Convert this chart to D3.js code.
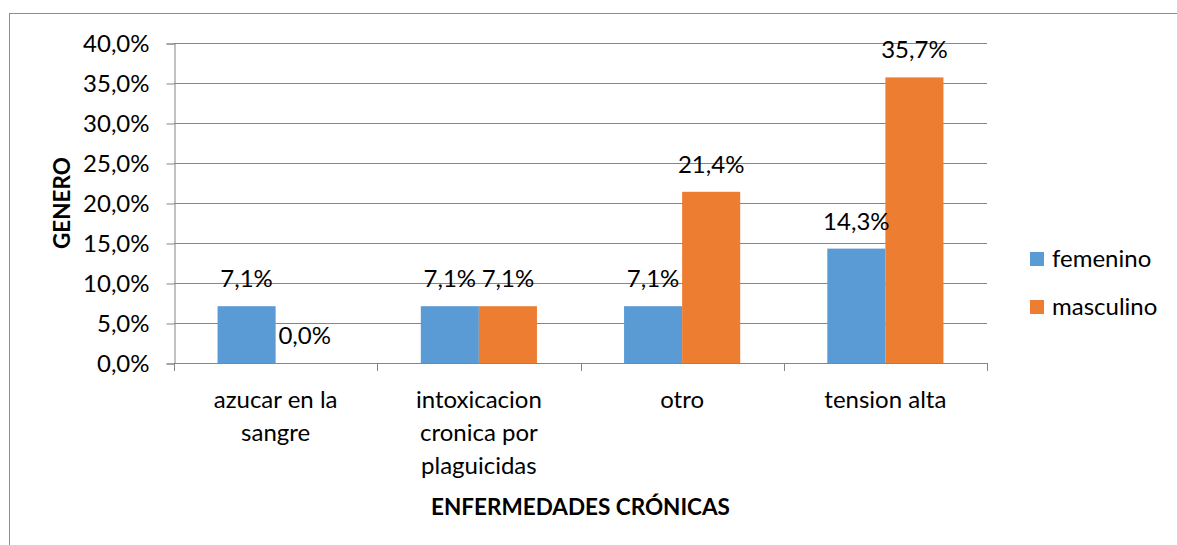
<!DOCTYPE html>
<html>
<head>
<meta charset="utf-8">
<script src="https://cdn.jsdelivr.net/npm/d3@7"></script>
<style>
  body { margin: 0; background: #fff; }
  svg { display: block; font-family: Lato, "Open Sans", sans-serif; }
</style>
</head>
<body>
<svg id="chart" width="1177" height="545"></svg>
<script>
// data
const categories = ["azucar en la sangre", "intoxicacion cronica por plaguicidas", "otro", "tension alta"];
const categoryLines = [["azucar en la", "sangre"], ["intoxicacion", "cronica por", "plaguicidas"], ["otro"], ["tension alta"]];
const series = ["femenino", "masculino"];
const femenino = [0.071, 0.071, 0.071, 0.143];
const masculino = [0.000, 0.071, 0.214, 0.357];
const yTicks = [0, 0.05, 0.10, 0.15, 0.20, 0.25, 0.30, 0.35, 0.40];
const colors = {femenino: "#5B9BD5", masculino: "#ED7D31"};

const seriesValues = {femenino: femenino, masculino: masculino};

const svg = d3.select("#chart");
const plotLeft = 174, plotRight = 987, plotTop = 43, plotBottom = 363;

const locale = d3.formatLocale({decimal: ",", thousands: ".", grouping: [3], currency: ["", "€"]});
const pct = locale.format(".1%");

// outer chart border (only top and left visible)
svg.append("rect")
    .attr("x", 9.5).attr("y", 13.5)
    .attr("width", 1300).attr("height", 700)
    .attr("fill", "none")
    .attr("stroke", "#8c8c8c");

let x0 = d3.scaleBand().domain(categories).range([plotLeft, plotRight]).paddingInner(0).paddingOuter(0);
let x1 = d3.scaleBand().domain(series).range([0, x0.bandwidth()]).paddingInner(0).paddingOuter(0.75);
let y = d3.scaleLinear().domain([0, 0.4]).range([plotBottom, plotTop]);

// gridlines
svg.append("g")
  .selectAll("line")
  .data(yTicks)
  .enter().append("line")
    .attr("x1", plotLeft).attr("x2", plotRight)
    .attr("y1", d => Math.round(y(d)) + 0.5).attr("y2", d => Math.round(y(d)) + 0.5)
    .attr("stroke", "#868686");

// y axis
let yAxis = d3.axisLeft(y).tickValues(yTicks).tickFormat(pct).tickSize(8).tickPadding(17);
let gy = svg.append("g").attr("transform", `translate(${plotLeft + 0.5},0.5)`).call(yAxis);
gy.select(".domain").attr("stroke", "#868686");
gy.selectAll(".tick line").attr("stroke", "#868686");
gy.selectAll(".tick text")
    .attr("font-size", 24)
    .attr("fill", "#000")
    .attr("dy", "0.34em")
    .attr("font-family", "Lato, sans-serif");

// x axis
let xTickPos = categories.map(c => x0(c)).concat([plotRight]);
svg.append("line")
    .attr("x1", plotLeft).attr("x2", plotRight)
    .attr("y1", plotBottom + 0.5).attr("y2", plotBottom + 0.5)
    .attr("stroke", "#868686");
svg.append("g")
  .selectAll("line")
  .data(xTickPos)
  .enter().append("line")
    .attr("x1", d => Math.round(d) + 0.5).attr("x2", d => Math.round(d) + 0.5)
    .attr("y1", plotBottom).attr("y2", plotBottom + 8)
    .attr("stroke", "#868686");

// bars
let groups = svg.append("g")
  .selectAll("g")
  .data(categories)
  .enter().append("g")
    .attr("transform", d => `translate(${x0(d)},0)`);

groups.selectAll("rect")
  .data((c, i) => series.map(s => ({s: s, v: seriesValues[s][i]})))
  .enter().append("rect")
    .attr("x", d => x1(d.s))
    .attr("y", d => y(d.v))
    .attr("width", x1.bandwidth())
    .attr("height", d => plotBottom - y(d.v))
    .attr("fill", d => colors[d.s]);

groups.selectAll("text")
  .data((c, i) => series.map(s => ({s: s, v: seriesValues[s][i]})))
  .enter().append("text")
    .attr("x", d => x1(d.s) + x1.bandwidth() / 2)
    .attr("y", d => y(d.v) - 19)
    .attr("text-anchor", "middle")
    .attr("font-size", 24)
    .attr("fill", "#000")
    .text(d => pct(d.v));

// category labels
let catLabels = svg.append("g")
  .selectAll("text")
  .data(categories)
  .enter().append("text")
    .attr("text-anchor", "middle")
    .attr("font-size", 24)
    .attr("fill", "#000");
catLabels.each(function(c, i) {
  let t = d3.select(this);
  categoryLines[i].forEach((ln, j) => {
    t.append("tspan")
      .attr("x", x0(c) + x0.bandwidth() / 2)
      .attr("y", 408 + j * 33)
      .text(ln);
  });
});

// axis titles
svg.append("text")
    .attr("x", (plotLeft + plotRight) / 2)
    .attr("y", 515)
    .attr("text-anchor", "middle")
    .attr("font-size", 22.5)
    .attr("font-weight", "bold")
    .text("ENFERMEDADES CRÓNICAS");

svg.append("text")
    .attr("transform", "translate(70,203) rotate(-90)")
    .attr("text-anchor", "middle")
    .attr("font-size", 22.5)
    .attr("font-weight", "bold")
    .text("GENERO");

// legend
let legend = svg.append("g")
  .selectAll("g")
  .data(series)
  .enter().append("g")
    .attr("transform", (d, i) => `translate(1030,${252 + i * 48})`);
legend.append("rect")
    .attr("width", 14).attr("height", 14)
    .attr("fill", d => colors[d]);
legend.append("text")
    .attr("x", 22).attr("y", 15)
    .attr("font-size", 24)
    .text(d => d);
</script>
</body>
</html>
